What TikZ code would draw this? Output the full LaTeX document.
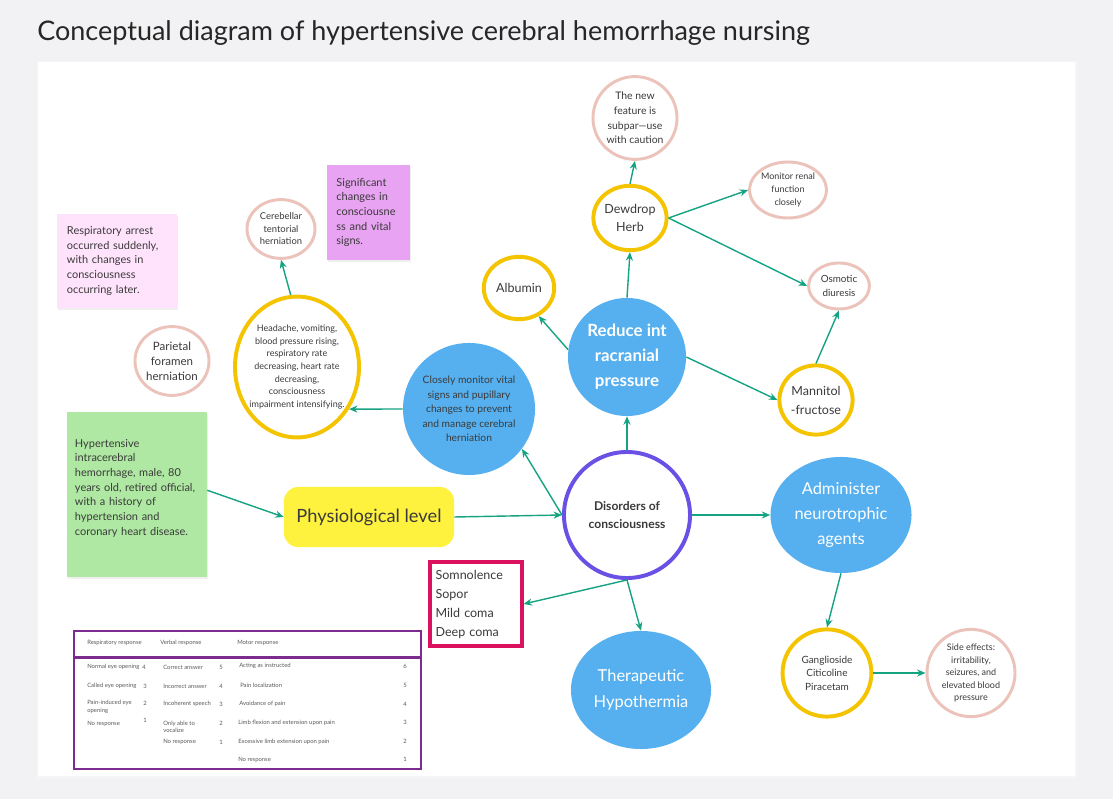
\documentclass[tikz,border=0pt]{standalone}
\usepackage{fontspec}
\setmainfont{Lato}
\usepackage{xcolor}
\usepackage{tikz}
\usetikzlibrary{arrows.meta, positioning, shapes.geometric, shadows}

\definecolor{pagegray}{HTML}{F2F2F4}
\definecolor{inkgray}{HTML}{3A3A3A}
\definecolor{cellgray}{HTML}{5A5A5A}
\definecolor{notepink}{HTML}{FFE3FC}
\definecolor{noteviolet}{HTML}{E8A3F2}
\definecolor{notegreen}{HTML}{AEE8A2}
\definecolor{levelyellow}{HTML}{FFF23F}
\definecolor{ringgold}{HTML}{F5C400}
\definecolor{ringpink}{HTML}{ECC3BA}
\definecolor{discblue}{HTML}{56B0EF}
\definecolor{ringpurple}{HTML}{6A50E4}
\definecolor{boxmagenta}{HTML}{D9115F}
\definecolor{tablepurple}{HTML}{7E2B8F}
\definecolor{linkteal}{HTML}{16A382}

\newcommand{\fsz}[2]{\fontsize{#1}{#2}\selectfont}

\tikzset{
  ring/.style={ellipse, fill=white, inner sep=-6pt, align=center, text=inkgray},
  pinkring/.style={ring, draw=ringpink, line width=2.1pt},
  goldring/.style={ring, draw=ringgold, line width=2.8pt},
  bluedisc/.style={ellipse, fill=discblue, inner sep=-6pt, align=center},
  sticky/.style={rectangle, inner sep=0pt, align=left, text=inkgray,
    drop shadow={shadow xshift=0.4pt, shadow yshift=-1.4pt, opacity=0.12},
    font=\fsz{7.8}{10.4}},
  link/.style={draw=linkteal, line width=1pt, -{Stealth[length=6pt, width=5pt]}},
  cell/.style={anchor=west, inner sep=0pt, align=left, text=cellgray,
    font=\fsz{4.2}{5.4}},
}

\begin{document}
\begin{tikzpicture}[x=0.025cm, y=-0.025cm]
  % page and panel
  \fill[pagegray] (0,0) rectangle (1113,799);
  \useasboundingbox (0,0) rectangle (1113,799);
  \fill[black!4] (37,61) rectangle (1077,778);
  \fill[white] (38,62) rectangle (1075,776);
  \node[anchor=base west, inner sep=0pt, text=black!85, font=\fsz{19.2}{22}] (title) at (37,41)
    {Conceptual diagram of hypertensive cerebral hemorrhage nursing};

  % sticky notes
  \node[sticky, fill=notepink, minimum width=3cm, minimum height=2.35cm, text width=2.5cm] (arrest) at (117,261)
    {Respiratory arrest\\ occurred suddenly,\\ with changes in\\ consciousness\\ occurring later.};
  \node[sticky, fill=noteviolet, minimum width=2.075cm, minimum height=2.375cm, text width=1.6cm] (vital) at (368.5,212.5)
    {Significant\\ changes in\\ consciousne\\ ss and vital\\ signs.};
  \node[sticky, fill=notegreen, minimum width=3.5cm, minimum height=4.125cm, text width=3.1cm] (case) at (137,494.5)
    {Hypertensive\\ intracerebral\\ hemorrhage, male, 80\\ years old, retired official,\\ with a history of\\ hypertension and\\ coronary heart disease.\\ ~};

  % main chain
  \node[rectangle, rounded corners=0.35cm, fill=levelyellow, minimum width=4.25cm, minimum height=1.5cm,
    text=inkgray, font=\fsz{13}{15}] (level) at (369,517) {Physiological level};
  \node[ring, draw=ringpurple, line width=2.8pt, minimum width=3.15cm, minimum height=3.15cm,
    font=\bfseries\fsz{8.6}{13.4}] (disorder) at (627,515) {Disorders of\\ consciousness};
  \node[rectangle, draw=boxmagenta, line width=2.2pt, fill=white, minimum width=2.3cm, minimum height=2.1cm,
    text width=2.02cm, align=left, inner sep=0pt, text=inkgray, font=\fsz{8.9}{13.5}] (levels) at (476,604)
    {Somnolence\\ Sopor\\ Mild coma\\ Deep coma};

  % herniation branch
  \node[bluedisc, minimum width=3.3cm, minimum height=3.3cm, text=inkgray, font=\fsz{7.3}{10.4}] (monitor) at (469,409)
    {Closely monitor vital\\ signs and pupillary\\ changes to prevent\\ and manage cerebral\\ herniation};
  \node[goldring, minimum width=3.1cm, minimum height=3.52cm, font=\fsz{6.4}{9}] (signs) at (297,367)
    {Headache, vomiting,\\ blood pressure rising,\\ respiratory rate\\ decreasing, heart rate\\ decreasing,\\ consciousness\\ impairment intensifying.};
  \node[pinkring, minimum width=1.7cm, minimum height=1.47cm, font=\fsz{6.7}{8.9}] (tentorial) at (281,229)
    {Cerebellar\\ tentorial\\ herniation};
  \node[pinkring, minimum width=1.85cm, minimum height=1.72cm, font=\fsz{8.2}{10.6}] (foramen) at (172,361)
    {Parietal\\ foramen\\ herniation};

  % intracranial pressure branch
  \node[bluedisc, minimum width=2.95cm, minimum height=2.95cm, text=white, font=\bfseries\fsz{12}{17.8}] (pressure) at (627,357)
    {Reduce int\\ racranial\\ pressure};
  \node[goldring, minimum width=1.76cm, minimum height=1.56cm, font=\fsz{8.9}{12}] (albumin) at (519,288) {Albumin};
  \node[goldring, minimum width=1.83cm, minimum height=1.61cm, font=\fsz{8.9}{13}] (dewdrop) at (630,218) {Dewdrop\\ Herb};
  \node[pinkring, minimum width=2.1cm, minimum height=2.07cm, font=\fsz{7.4}{10.4}] (caution) at (635,118)
    {The new\\ feature is\\ subpar—use\\ with caution};
  \node[pinkring, minimum width=1.92cm, minimum height=1.4cm, font=\fsz{6.4}{9}] (renal) at (788,190)
    {Monitor renal\\ function\\ closely};
  \node[pinkring, minimum width=1.52cm, minimum height=1.15cm, font=\fsz{7}{10.5}] (diuresis) at (839,286)
    {Osmotic\\ diuresis};
  \node[goldring, minimum width=1.83cm, minimum height=1.73cm, font=\fsz{8.9}{13.5}] (mannitol) at (816,400)
    {Mannitol\\ -fructose};

  % neurotrophic and hypothermia branch
  \node[bluedisc, minimum width=3.525cm, minimum height=2.9cm, text=white, font=\fsz{11.7}{18}] (neuro) at (841,515)
    {Administer\\ neurotrophic\\ agents};
  \node[bluedisc, minimum width=3.5cm, minimum height=2.95cm, text=white, font=\fsz{11.7}{18}] (hypo) at (641,690)
    {Therapeutic\\ Hypothermia};
  \node[goldring, minimum width=2.22cm, minimum height=2.18cm, font=\fsz{7.1}{9.6}] (drugs) at (827,673)
    {Ganglioside\\ Citicoline\\ Piracetam};
  \node[pinkring, minimum width=2.2cm, minimum height=2.18cm, font=\fsz{6.4}{8.9}] (effects) at (971,673)
    {Side effects:\\ irritability,\\ seizures, and\\ elevated blood\\ pressure};

  % connectors
  \draw[link] ([yshift=3pt]case.east) -- (level.west);
  \draw[link] (level.east) -- (disorder.west);
  \draw[link] (disorder.west) -- (monitor.-37);
  \draw[link] (monitor.west) -- (signs.-39.5);
  \draw[link] (signs.95) -- (tentorial.south);
  \draw[link] (disorder.north) -- (pressure.south);
  \draw[link] (pressure.173) -- (albumin.-55);
  \draw[link] (pressure.north) -- (dewdrop.south);
  \draw[link] (dewdrop.north) -- (caution.south);
  \draw[link] (dewdrop.east) -- (renal.west);
  \draw[link] (dewdrop.east) -- (diuresis.west);
  \draw[link] (pressure.east) -- (mannitol.west);
  \draw[link] (mannitol.north) -- (diuresis.south);
  \draw[link] (disorder.east) -- (neuro.west);
  \draw[link] (disorder.south) -- (levels.east);
  \draw[link] (disorder.south) -- (hypo.north);
  \draw[link] (neuro.south) -- (drugs.north);
  \draw[link] (drugs.east) -- (effects.west);

  % coma scale table
  \draw[tablepurple, line width=1.4pt] (74,631) rectangle (421,769);
  \draw[tablepurple, line width=1.6pt] (74,657.5) -- (421,657.5);
  \foreach \cx/\cy/\ctext [count=\i] in {
      87/643/Respiratory response, 160/643/Verbal response, 237/643/Motor response,
      87/667/Normal eye opening, 87/686/Called eye opening, 87/707/{Pain-induced eye\\ opening}, 87/724/No response,
      163/667/Correct answer, 163/686/Incorrect answer, 163/704/Incoherent speech,
      163/727/{Only able to\\ vocalize}, 163/742/No response,
      239/666/Acting as instructed, 240/685/Pain localization, 239/704/Avoidance of pain,
      238/723/Limb flexion and extension upon pain, 238/742/Excessive limb extension upon pain,
      238/760/No response}
    \node[cell] (cell\i) at (\cx,\cy) {\ctext};
  \foreach \cx/\cy/\cval [count=\i] in {
      142/667/4, 143/686/3, 143/703/2, 143/720/1,
      219/667/5, 219/686/4, 219/704/3, 219/723/2, 219/742/1,
      403/666/6, 403/685/5, 403/704/4, 403/722/3, 403/741/2, 403/759/1}
    \node[cell] (score\i) at (\cx,\cy) {\cval};
\end{tikzpicture}
\end{document}
